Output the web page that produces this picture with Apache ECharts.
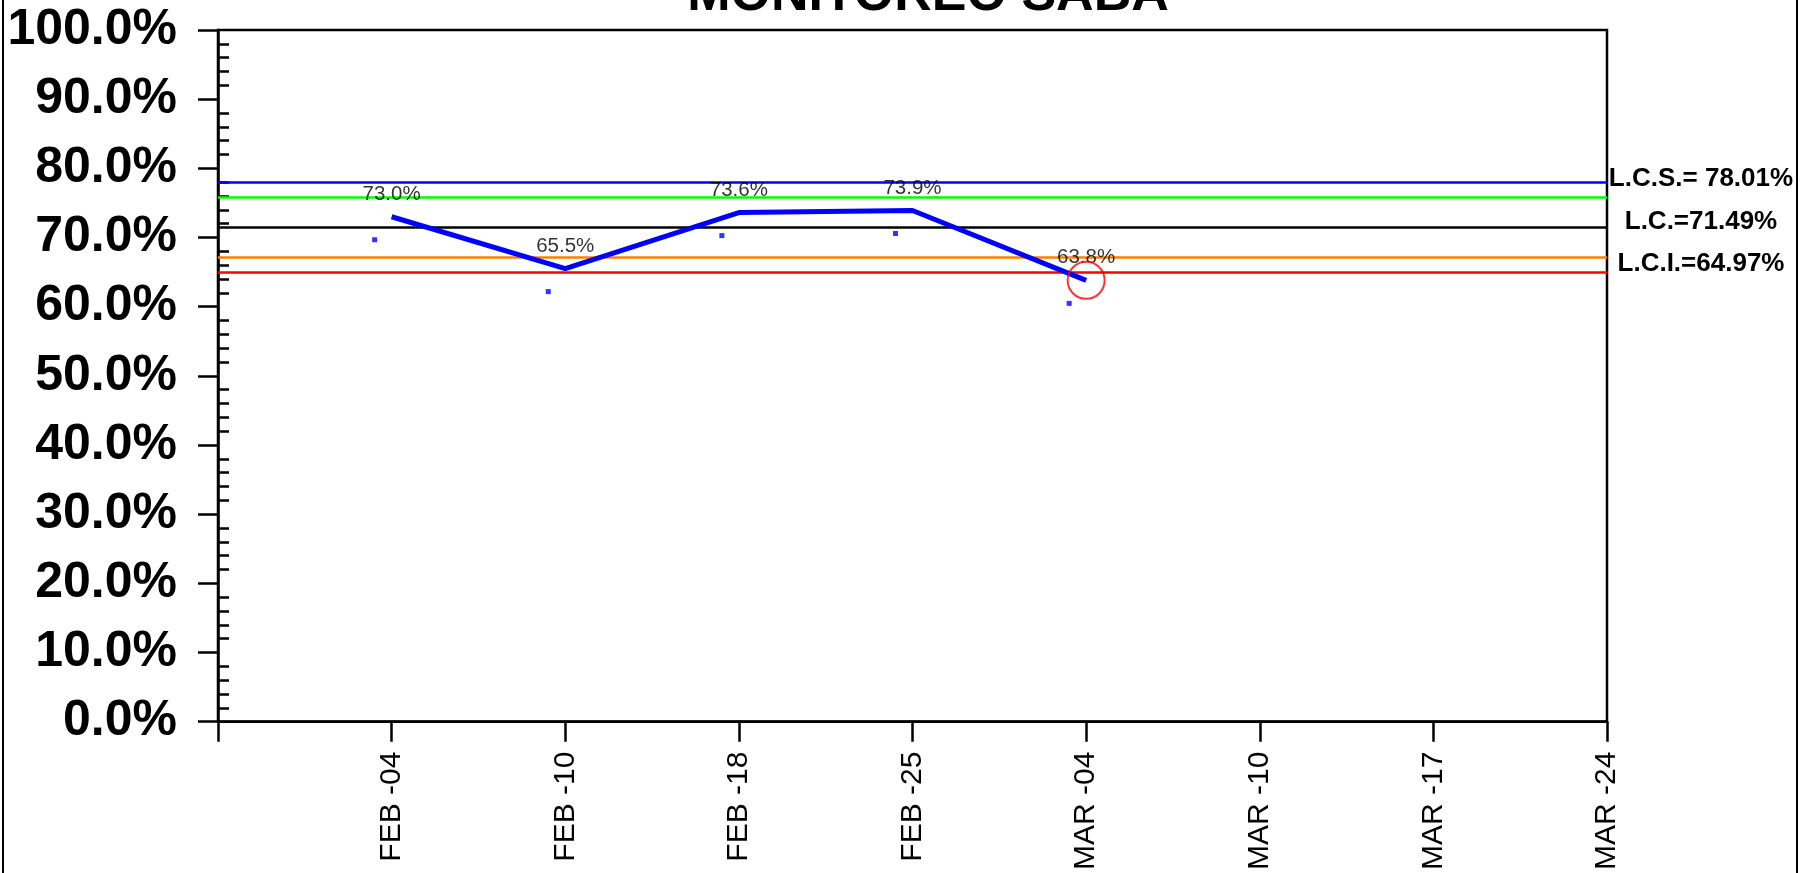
<!DOCTYPE html>
<html>
<head>
<meta charset="utf-8">
<script src="https://cdn.jsdelivr.net/npm/echarts@6/dist/echarts.min.js"></script>
<style>html,body{margin:0;padding:0;background:#fff;}#c{width:1800px;height:873px;}</style>
</head>
<body>
<div id="c"></div>
<script>
var titleText = 'MONITOREO SABA';
var categories = ['', 'FEB -04', 'FEB -10', 'FEB -18', 'FEB -25', 'MAR -04', 'MAR -10', 'MAR -17', 'MAR -24'];
var values = [null, 73.0, 65.5, 73.6, 73.9, 63.8];
var limitLCS = 78.01;
var limitLC = 71.49;
var limitLCI = 64.97;
var limitUpper2 = 75.84;
var limitLower2 = 67.14;
var limitLabels = ['L.C.S.= 78.01%', 'L.C.=71.49%', 'L.C.I.=64.97%'];
var minorCats = [];
for (var i = 0; i <= 50; i++) minorCats.push(String(i * 2));

var FONT = '"Liberation Sans", Arial, sans-serif';
var chart = echarts.init(document.getElementById('c'), null, {renderer: 'canvas'});

var lastIdx = values.length - 1;
var circleData = values.map(function (v, i) { return i === lastIdx ? v : null; });

var option = {
  backgroundColor: '#fff',
  animation: false,
  grid: {left: 218, right: 193, top: 30, bottom: 150, show: true, borderColor: '#000', borderWidth: 2.5, backgroundColor: 'transparent'},
  xAxis: {
    type: 'category', data: categories, boundaryGap: false,
    axisLine: {lineStyle: {color: '#000', width: 2.5}},
    axisTick: {show: true, length: 20, interval: 0, lineStyle: {color: '#000', width: 2.5}},
    axisLabel: {interval: 0, rotate: 90, margin: 30, color: '#000', fontFamily: FONT, fontSize: 30, padding: [8, 0, 0, 0]},
    splitLine: {show: false}
  },
  yAxis: [{
    type: 'value', min: 0, max: 100, interval: 10,
    axisLine: {show: true, lineStyle: {color: '#000', width: 2.5}},
    axisTick: {show: true, length: 20, lineStyle: {color: '#000', width: 2.5}},
    axisLabel: {margin: 41, color: '#000', fontFamily: FONT, fontSize: 50, fontWeight: 'bold',
      formatter: function (v) { return v.toFixed(1) + '%'; }},
    splitLine: {show: false}
  }, {
    type: 'category', data: minorCats, boundaryGap: false, position: 'left',
    axisLine: {show: false},
    axisLabel: {show: false},
    axisTick: {show: true, inside: true, length: 11, interval: function (i) { return i % 5 !== 0; }, lineStyle: {color: '#000', width: 2.5}},
    splitLine: {show: false}
  }],
  series: [{
    type: 'line', data: values, showSymbol: false, symbol: 'none', connectNulls: false,
    lineStyle: {color: '#0000ff', width: 5}, z: 5,
    label: {show: false},
    markLine: {
      silent: true, symbol: 'none', label: {show: false},
      data: [
        {yAxis: limitLCS, lineStyle: {color: '#0000ff', width: 2.5, type: 'solid'}},
        {yAxis: limitUpper2, lineStyle: {color: '#00ff00', width: 2.5, type: 'solid'}},
        {yAxis: limitLC, lineStyle: {color: '#000000', width: 2.5, type: 'solid'}},
        {yAxis: limitLower2, lineStyle: {color: '#ff8000', width: 2.5, type: 'solid'}},
        {yAxis: limitLCI, lineStyle: {color: '#ff0000', width: 2.5, type: 'solid'}}
      ]
    }
  }, {
    type: 'scatter', data: values, symbol: 'rect', symbolSize: 5, symbolOffset: [-17, 23],
    itemStyle: {color: '#0000ff'}, z: 4,
    label: {show: false}
  }, {
    type: 'scatter', data: values, symbolSize: 0.1, itemStyle: {color: 'transparent'}, z: 6,
    label: {show: true, position: 'top', distance: 12, color: '#000', fontFamily: FONT, fontSize: 20.5,
      formatter: function (p) { return p.value == null ? '' : p.value.toFixed(1) + '%'; }}
  }, {
    type: 'scatter', data: circleData, symbol: 'circle', symbolSize: 37, z: 7,
    itemStyle: {color: 'transparent', borderColor: '#ff0000', borderWidth: 2}
  }]
};
chart.setOption(option);

var limitVals = [limitLCS, limitLC, limitLCI];
var limitShift = [-3, -5, -8];
var graphics = [{
  type: 'rect', shape: {x: 3, y: -10, width: 1794, height: 900},
  style: {fill: 'none', stroke: '#000', lineWidth: 2}, silent: true
}, {
  type: 'text', x: 928, y: -4,
  style: {text: titleText, font: 'bold 52px ' + FONT, fill: '#000', textAlign: 'center', textVerticalAlign: 'middle'}
}];
limitVals.forEach(function (v, i) {
  var py = chart.convertToPixel({yAxisIndex: 0}, v);
  graphics.push({
    type: 'text', x: 1701, y: py + limitShift[i],
    style: {text: limitLabels[i], font: 'bold 26px ' + FONT, fill: '#000', textAlign: 'center', textVerticalAlign: 'middle'}
  });
});
chart.setOption({graphic: graphics});
</script>
</body>
</html>
